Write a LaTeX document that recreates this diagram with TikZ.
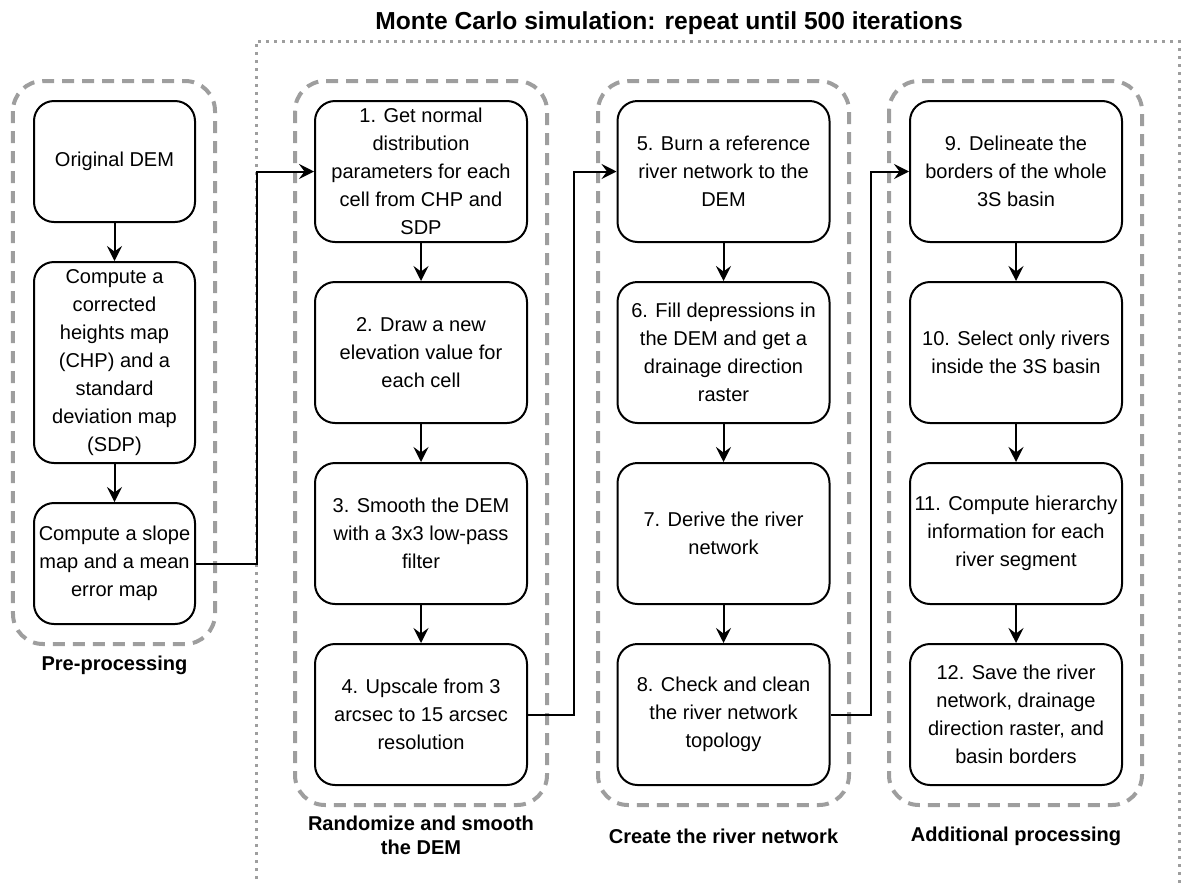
\documentclass[tikz,border=0pt]{standalone}
\usepackage{fontspec}
\setmainfont{Liberation Sans}
\usetikzlibrary{arrows.meta}
\definecolor{grpgray}{HTML}{9E9E9E}

\begin{document}
\begin{tikzpicture}[>={Stealth[length=3mm,width=3mm,inset=1.1mm]},
  box/.style={draw=black,line width=0.04cm,rounded corners=0.4cm,fill=white,align=center,inner sep=0pt,font=\fontsize{11.4}{16}\selectfont},
  grp/.style={draw=grpgray,line width=0.08cm,rounded corners=0.6cm,dash pattern=on 0.24cm off 0.16cm},
  frame/.style={draw=grpgray,line width=0.06cm,dash pattern=on 0.06cm off 0.1cm},
  lbl/.style={align=center,font=\fontsize{11.4}{14}\selectfont\bfseries},
  arr/.style={->,line width=0.04cm}]
\useasboundingbox (0,0) rectangle (23.62,-17.66);
% outer Monte Carlo frame and title
\draw[frame] (5.12,-17.9) -- (5.12,-0.82) -- (23.58,-0.82) -- (23.58,-17.9);
\node[font=\fontsize{14}{16}\selectfont\bfseries,anchor=base] (mctitle) at (13.38,-0.58) {Monte Carlo simulation: repeat until 500 iterations};
% dashed groups
\draw[grp] (0.26,-1.62) rectangle (4.30,-12.88);
\draw[grp] (5.90,-1.62) rectangle (10.94,-16.10);
\draw[grp] (11.96,-1.62) rectangle (16.98,-16.10);
\draw[grp] (17.78,-1.62) rectangle (22.84,-16.10);
\node[lbl] (lpre) at (2.29,-13.30) {Pre-processing};
\node[lbl] (lrand) at (8.42,-16.71) {Randomize and smooth\\the DEM};
\node[lbl] (lriver) at (14.47,-16.72) {Create the river network};
\node[lbl] (ladd) at (20.32,-16.72) {Additional processing};
% pre-processing
\node[box,minimum width=3.22cm,minimum height=2.42cm] (pre1) at (2.29,-3.23) {Original DEM};
\node[box,minimum width=3.22cm,minimum height=4.02cm] (pre2) at (2.29,-7.25) {Compute a\\corrected\\heights map\\(CHP) and a\\standard\\deviation map\\(SDP)};
\node[box,minimum width=3.22cm,minimum height=2.42cm] (pre3) at (2.29,-11.27) {Compute a slope\\map and a mean\\error map};
% randomize and smooth
\node[box,minimum width=4.24cm,minimum height=2.82cm] (s1) at (8.42,-3.43) {1. Get normal\\distribution\\parameters for each\\cell from CHP and\\SDP};
\node[box,minimum width=4.24cm,minimum height=2.82cm] (s2) at (8.42,-7.05) {2. Draw a new\\elevation value for\\each cell};
\node[box,minimum width=4.24cm,minimum height=2.82cm] (s3) at (8.42,-10.67) {3. Smooth the DEM\\with a 3x3 low-pass\\filter};
\node[box,minimum width=4.24cm,minimum height=2.82cm] (s4) at (8.42,-14.29) {4. Upscale from 3\\arcsec to 15 arcsec\\resolution};
% river network
\node[box,minimum width=4.24cm,minimum height=2.82cm] (s5) at (14.47,-3.43) {5. Burn a reference\\river network to the\\DEM};
\node[box,minimum width=4.24cm,minimum height=2.82cm] (s6) at (14.47,-7.05) {6. Fill depressions in\\the DEM and get a\\drainage direction\\raster};
\node[box,minimum width=4.24cm,minimum height=2.82cm] (s7) at (14.47,-10.67) {7. Derive the river\\network};
\node[box,minimum width=4.24cm,minimum height=2.82cm] (s8) at (14.47,-14.29) {8. Check and clean\\the river network\\topology};
% additional processing
\node[box,minimum width=4.24cm,minimum height=2.82cm] (s9) at (20.32,-3.43) {9. Delineate the\\borders of the whole\\3S basin};
\node[box,minimum width=4.24cm,minimum height=2.82cm] (s10) at (20.32,-7.05) {10. Select only rivers\\inside the 3S basin};
\node[box,minimum width=4.24cm,minimum height=2.82cm] (s11) at (20.32,-10.67) {11. Compute hierarchy\\information for each\\river segment};
\node[box,minimum width=4.24cm,minimum height=2.82cm] (s12) at (20.32,-14.29) {12. Save the river\\network, drainage\\direction raster, and\\basin borders};
% connectors
\draw[arr] (pre1) -- (pre2);
\draw[arr] (pre2) -- (pre3);
\draw[arr] (pre3.east) -- ++(1.22,0) |- (s1.west);
\draw[arr] (s1) -- (s2);
\draw[arr] (s2) -- (s3);
\draw[arr] (s3) -- (s4);
\draw[arr] (s4.east) -- ++(0.92,0) |- (s5.west);
\draw[arr] (s5) -- (s6);
\draw[arr] (s6) -- (s7);
\draw[arr] (s7) -- (s8);
\draw[arr] (s8.east) -- ++(0.80,0) |- (s9.west);
\draw[arr] (s9) -- (s10);
\draw[arr] (s10) -- (s11);
\draw[arr] (s11) -- (s12);
\end{tikzpicture}
\end{document}
